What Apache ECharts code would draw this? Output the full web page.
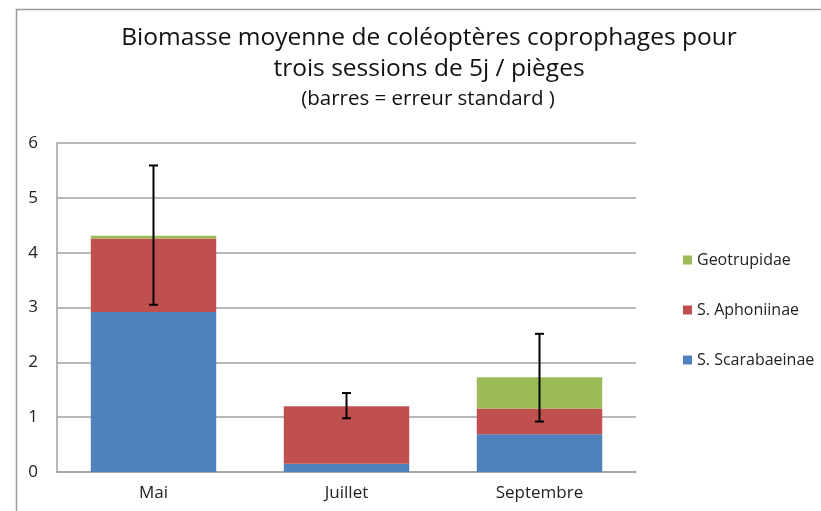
<!DOCTYPE html>
<html><head><meta charset="utf-8">
<script src="https://cdn.jsdelivr.net/npm/echarts@6/dist/echarts.min.js"></script>
<style>html,body{margin:0;padding:0;background:#fff}#c{width:821px;height:511px}</style>
</head><body><div id="c"></div>
<script>
const categories = ['Mai', 'Juillet', 'Septembre'];
const scarabaeinae = [2.92, 0.15, 0.69];
const aphoniinae = [1.34, 1.05, 0.47];
const geotrupidae = [0.05, 0.00, 0.57];
const errorMean = [4.32, 1.21, 1.72];
const errorSE = [1.27, 0.23, 0.80];
const yTicks = [0, 1, 2, 3, 4, 5, 6];

const font = '"Open Sans", "Noto Sans", sans-serif';
const chart = echarts.init(document.getElementById('c'), null, {renderer: 'canvas'});
const errData = categories.map((c, i) => [i, errorMean[i] - errorSE[i], errorMean[i] + errorSE[i]]);

chart.setOption({
  animation: false,
  backgroundColor: '#fff',
  graphic: [{
    type: 'rect', left: 14, top: 7, shape: {width: 900, height: 600},
    style: {fill: 'none', stroke: '#9a9a9a', lineWidth: 1.5}, silent: true, z: -1
  }],
  title: [{
    text: 'Biomasse moyenne de coléoptères coprophages pour\ntrois sessions de 5j / pièges',
    left: 424, top: 18, textAlign: 'center',
    textStyle: {fontFamily: font, fontSize: 24.5, fontWeight: 'normal', color: '#111', lineHeight: 31}
  }, {
    text: '(barres = erreur standard )',
    left: 423, top: 84, textAlign: 'center',
    textStyle: {fontFamily: font, fontSize: 20.5, fontWeight: 'normal', color: '#111'}
  }],
  legend: {
    orient: 'vertical', left: 678, top: 247, itemGap: 34, itemWidth: 9, itemHeight: 9,
    icon: 'rect', data: ['Geotrupidae', 'S. Aphoniinae', 'S. Scarabaeinae'],
    textStyle: {fontFamily: font, fontSize: 16, color: '#222'}
  },
  grid: {left: 57, right: 821 - 636, top: 143, bottom: 511 - 472, containLabel: false},
  xAxis: {
    type: 'category', data: categories,
    axisLine: {lineStyle: {color: '#a0a0a0', width: 1.5}},
    axisTick: {show: false},
    axisLabel: {fontFamily: font, fontSize: 17, color: '#222', margin: 13}
  },
  yAxis: {
    type: 'value', min: 0, max: 6, interval: 1,
    axisLine: {show: true, lineStyle: {color: '#a0a0a0', width: 1.5}},
    axisTick: {show: false},
    splitLine: {lineStyle: {color: '#a0a0a0', width: 1.5}},
    axisLabel: {fontFamily: font, fontSize: 17, color: '#222', margin: 19,
      formatter: v => yTicks.includes(v) ? String(v) : ''}
  },
  series: [
    {name: 'S. Scarabaeinae', type: 'bar', stack: 'a', data: scarabaeinae, barCategoryGap: '35%', itemStyle: {color: '#4F81BD'}},
    {name: 'S. Aphoniinae', type: 'bar', stack: 'a', data: aphoniinae, itemStyle: {color: '#C0504D'}},
    {name: 'Geotrupidae', type: 'bar', stack: 'a', data: geotrupidae, itemStyle: {color: '#9BBB59'}},
    {
      type: 'custom', name: 'err', data: errData, z: 10,
      renderItem: function (params, api) {
        const x = api.value(0);
        const lo = api.coord([x, api.value(1)]);
        const hi = api.coord([x, api.value(2)]);
        const hw = 4.5;
        const st = {stroke: '#000', lineWidth: 2};
        return {type: 'group', children: [
          {type: 'line', shape: {x1: hi[0], y1: hi[1], x2: lo[0], y2: lo[1]}, style: st},
          {type: 'line', shape: {x1: hi[0] - hw, y1: hi[1], x2: hi[0] + hw, y2: hi[1]}, style: st},
          {type: 'line', shape: {x1: lo[0] - hw, y1: lo[1], x2: lo[0] + hw, y2: lo[1]}, style: st}
        ]};
      }
    }
  ]
});
</script></body></html>
